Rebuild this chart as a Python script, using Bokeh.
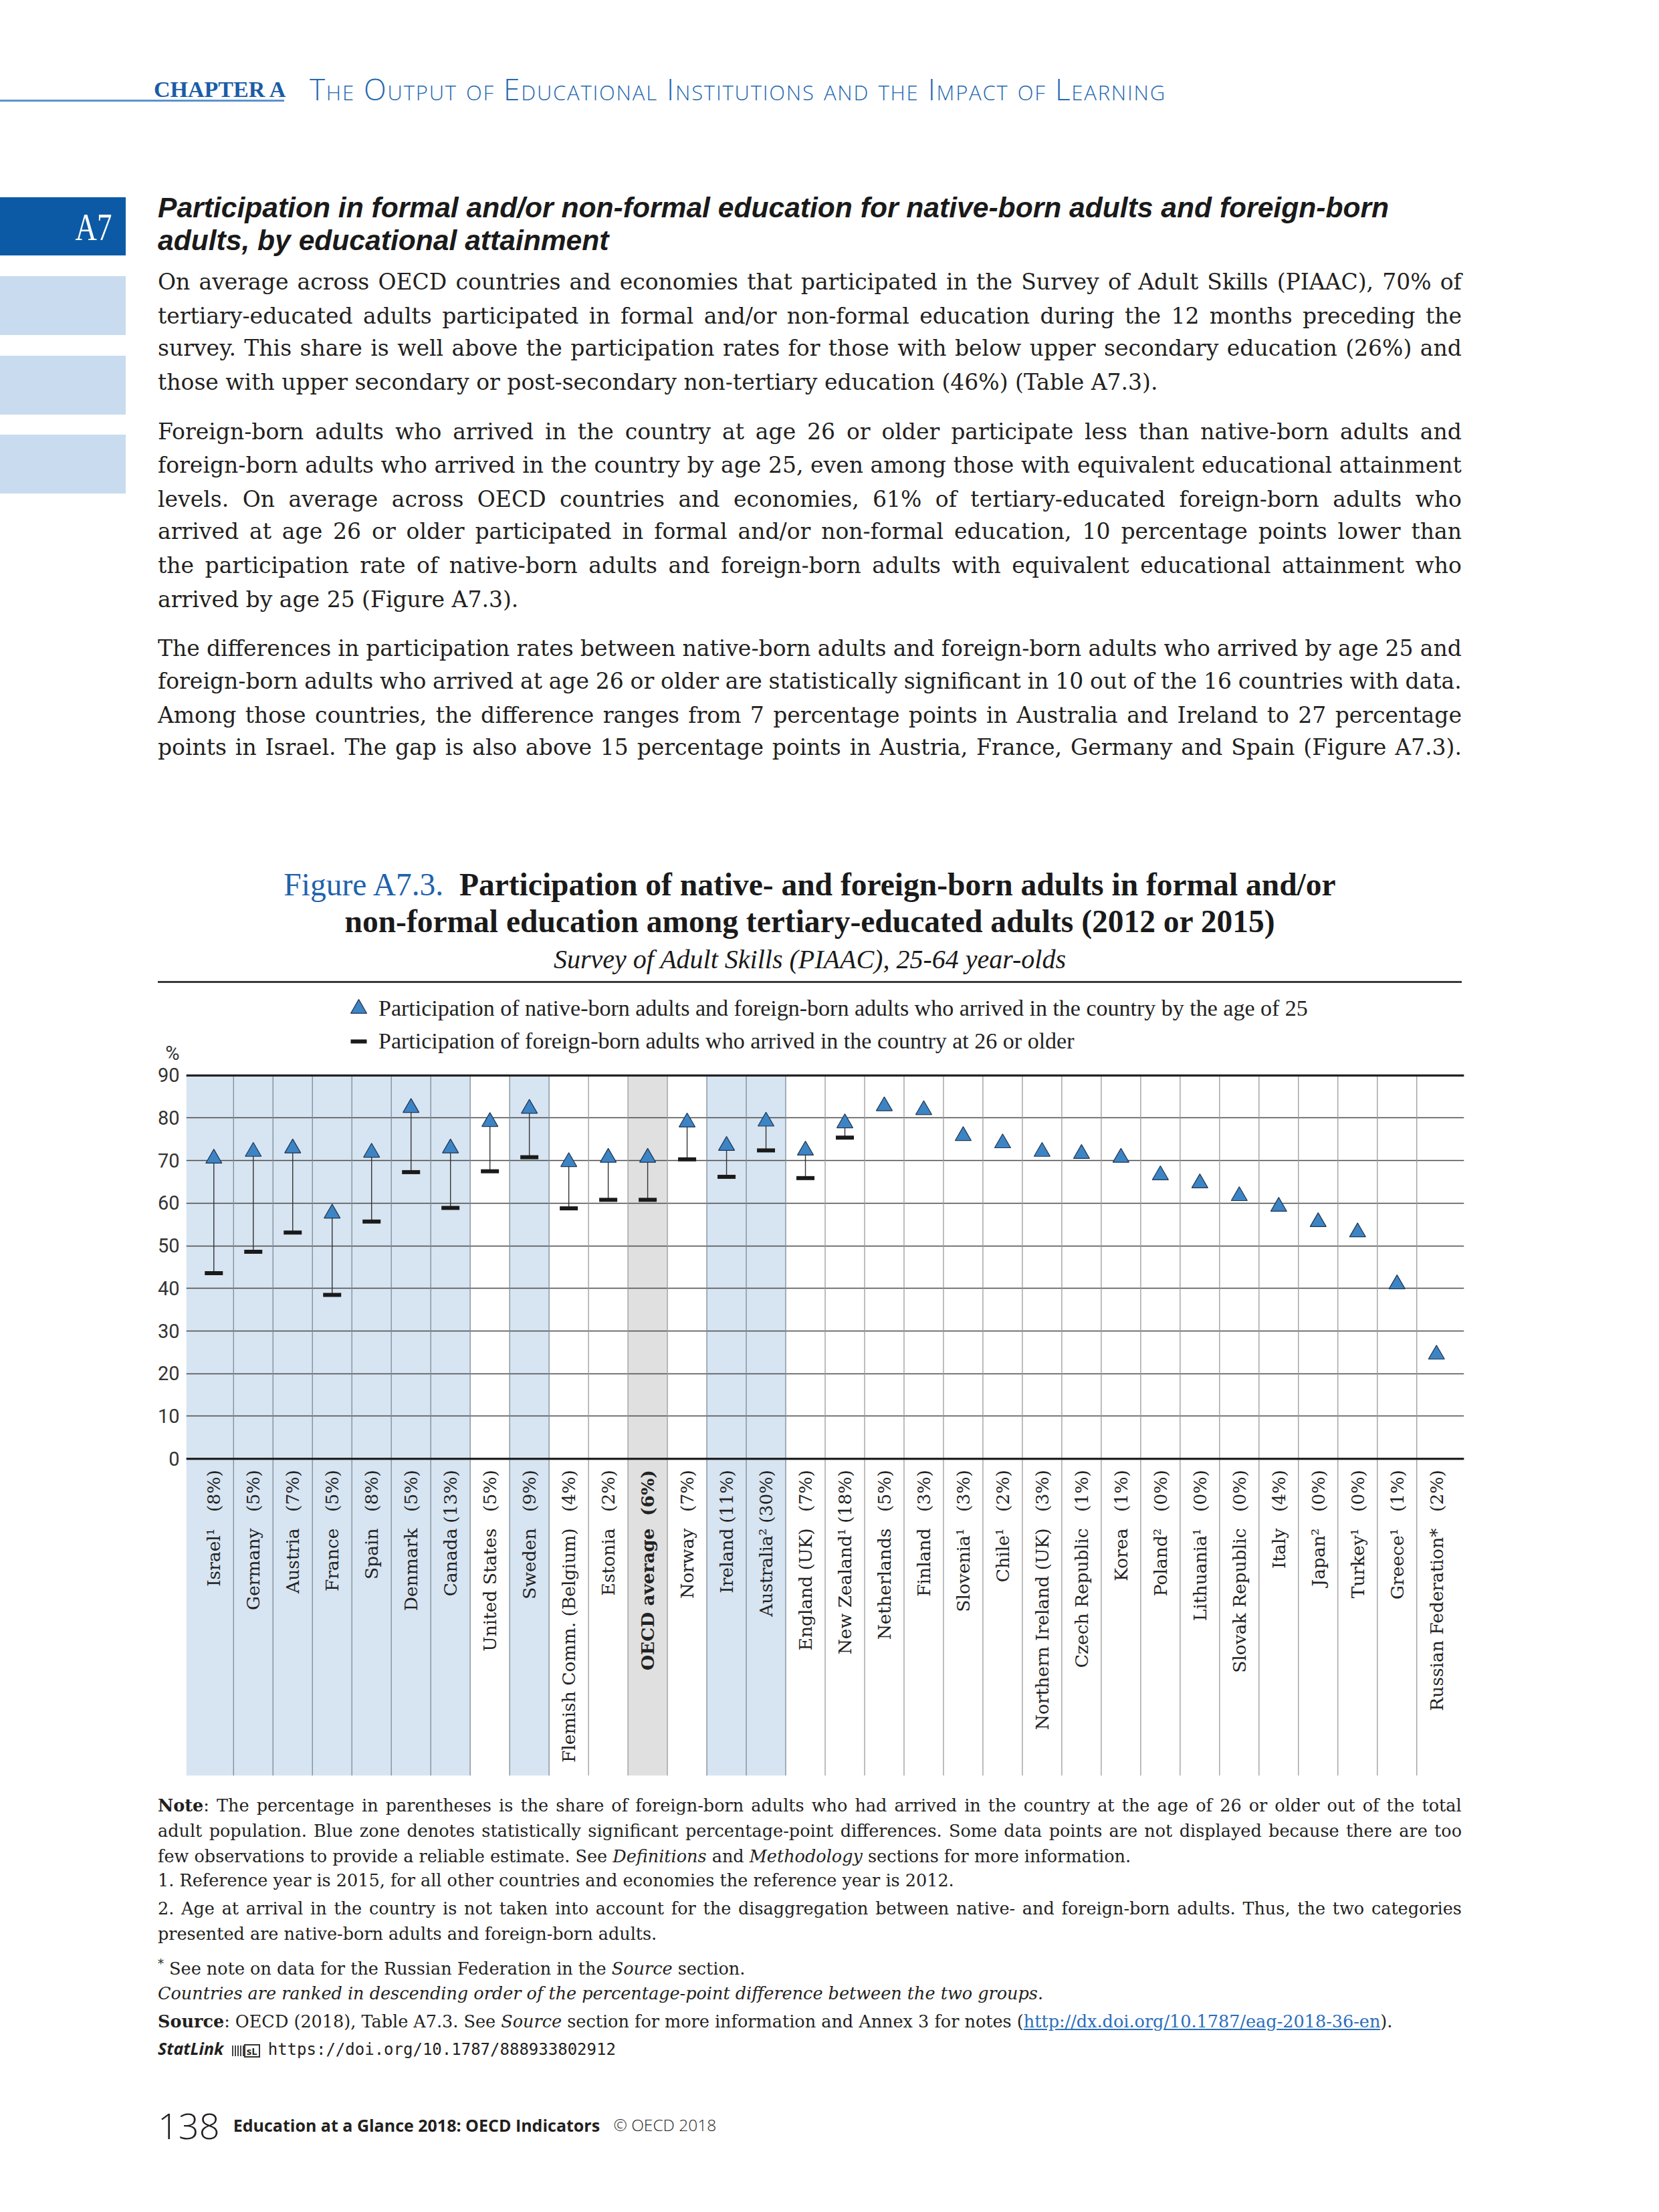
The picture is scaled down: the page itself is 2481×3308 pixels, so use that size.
import math
from bokeh.plotting import figure
from bokeh.models import Range1d, FixedTicker, ColumnDataSource, Legend, LegendItem, Div, Span
from bokeh.layouts import column
from bokeh.embed import file_html
from bokeh.resources import INLINE
from bokeh.core.properties import value, field

# ------------------------------------------------------------------ data
countries = ["Israel\u00b9", "Germany", "Austria", "France", "Spain", "Denmark", "Canada",
             "United States", "Sweden", "Flemish Comm. (Belgium)", "Estonia", "OECD average",
             "Norway", "Ireland", "Australia\u00b2", "England (UK)", "New Zealand\u00b9", "Netherlands",
             "Finland", "Slovenia\u00b9", "Chile\u00b9", "Northern Ireland (UK)", "Czech Republic", "Korea",
             "Poland\u00b2", "Lithuania\u00b9", "Slovak Republic", "Italy", "Japan\u00b2", "Turkey\u00b9",
             "Greece\u00b9", "Russian Federation*"]
shares = ["(8%)", "(5%)", "(7%)", "(5%)", "(8%)", "(5%)", "(13%)", "(5%)", "(9%)", "(4%)", "(2%)",
          "(6%)", "(7%)", "(11%)", "(30%)", "(7%)", "(18%)", "(5%)", "(3%)", "(3%)", "(2%)", "(3%)",
          "(1%)", "(1%)", "(0%)", "(0%)", "(0%)", "(4%)", "(0%)", "(0%)", "(1%)", "(2%)"]
# native-born adults and foreign-born adults who arrived by age 25
native_by25 = [70.5, 72.1, 72.9, 57.6, 71.9, 82.4, 72.9, 79.1, 82.2, 69.7, 70.7, 70.7,
               79.0, 73.5, 79.2, 72.4, 78.8, 82.8, 81.9, 75.8, 74.1, 72.1, 71.6, 70.7,
               66.6, 64.7, 61.7, 59.2, 55.6, 53.2, 41.0, 24.5]
# foreign-born adults who arrived at 26 or older (None = not displayed)
foreign_26plus = [43.6, 48.6, 53.1, 38.5, 55.7, 67.3, 58.9, 67.5, 70.8, 58.8, 60.8, 60.8,
                  70.3, 66.2, 72.4, 65.9, 75.4, None, None, None, None, None, None, None,
                  None, None, None, None, None, None, None, None]
significant = [True, True, True, True, True, True, True, False, True, False, False, False,
               False, True, True, False, False, False, False, False, False, False, False, False,
               False, False, False, False, False, False, False, False]
average_label = "OECD average"
y_ticks = [0, 10, 20, 30, 40, 50, 60, 70, 80, 90]
unit_label = "%"
legend_labels = ["Participation of native-born adults and foreign-born adults who arrived in the country by the age of 25",
                 "Participation of foreign-born adults who arrived in the country at 26 or older"]

# ------------------------------------------------------------------ styles
W = 2465
TOP_H, FIG_H, BOT_H = 1478, 1192, 630
TXT = "#231f20"
BLUE_DARK = "#0c5aa6"
SERIF = "'Liberation Serif', serif"
BODY = "'DejaVu Serif', serif"
SANS = "'Open Sans', sans-serif"
HEAD = "'Liberation Sans', sans-serif"


def line_div(html, left, center, width, font, size, lh=None, justify=False, color=TXT,
             align="left", extra=""):
    lh = lh or int(size * 1.35)
    top = center - lh / 2
    base = (f"position:absolute;left:{left}px;top:{top:.1f}px;width:{width}px;height:{lh}px;"
            f"line-height:{lh}px;font-family:{font};font-size:{size}px;color:{color};"
            f"white-space:nowrap;{extra}")
    if justify:
        inner = "".join(f"<span>{w}</span>" for w in html.split(" "))
        return f'<div style="{base}display:flex;justify-content:space-between;align-items:baseline;">{inner}</div>'
    return f'<div style="{base}text-align:{align};">{html}</div>'


def box(left, top, width, height, color, extra=""):
    return (f'<div style="position:absolute;left:{left}px;top:{top}px;width:{width}px;'
            f'height:{height}px;background:{color};{extra}"></div>')


# ------------------------------------------------------------------ top block (page coords)
parts = []
parts.append(box(0, 149, 425, 3, "#5a93cf"))
parts.append(line_div("CHAPTER A", 230, 133, 200, SERIF, 34,
                      color="#1b5ca6", extra="font-weight:bold;"))
parts.append(line_div("The Output of Educational Institutions and the Impact of Learning",
                      463, 133, 1500, SANS, 44, color="#2468b2",
                      extra="font-variant:small-caps;font-weight:300;letter-spacing:1.8px;"))
# sidebar
parts.append(box(0, 295, 188, 87, BLUE_DARK))
parts.append(line_div("A7", 95, 340, 90, SERIF, 56, color="#ffffff",
                      align="center", extra="transform:scaleX(0.8);"))
for t in (413, 532, 650):
    parts.append(box(0, t, 188, 88, "#c9dbef"))
# heading
head = ["Participation in formal and/or non-formal education for native-born adults and foreign-born",
        "adults, by educational attainment"]
for txt, c in zip(head, (310, 359)):
    parts.append(line_div(txt, 236, c, 1950, HEAD, 42.6, lh=49, color="#1a1a1a",
                          extra="font-weight:bold;font-style:italic;"))
# body paragraphs: (text, centre, justified)
body = [
    ("On average across OECD countries and economies that participated in the Survey of Adult Skills (PIAAC), 70% of", 422, True),
    ("tertiary-educated adults participated in formal and/or non-formal education during the 12 months preceding the", 473, True),
    ("survey. This share is well above the participation rates for those with below upper secondary education (26%) and", 521, True),
    ("those with upper secondary or post-secondary non-tertiary education (46%) (Table A7.3).", 572, False),
    ("Foreign-born adults who arrived in the country at age 26 or older participate less than native-born adults and", 646, True),
    ("foreign-born adults who arrived in the country by age 25, even among those with equivalent educational attainment", 696, True),
    ("levels. On average across OECD countries and economies, 61% of tertiary-educated foreign-born adults who", 747, True),
    ("arrived at age 26 or older participated in formal and/or non-formal education, 10 percentage points lower than", 795, True),
    ("the participation rate of native-born adults and foreign-born adults with equivalent educational attainment who", 846, True),
    ("arrived by age 25 (Figure A7.3).", 897, False),
    ("The differences in participation rates between native-born adults and foreign-born adults who arrived by age 25 and", 970, True),
    ("foreign-born adults who arrived at age 26 or older are statistically significant in 10 out of the 16 countries with data.", 1019, True),
    ("Among those countries, the difference ranges from 7 percentage points in Australia and Ireland to 27 percentage", 1070, True),
    ("points in Israel. The gap is also above 15 percentage points in Austria, France, Germany and Spain (Figure A7.3).", 1118, True),
]
for txt, c, j in body:
    parts.append(line_div(txt, 236, c, 1950, BODY, 33, lh=50, justify=j))
# figure title
t1 = ('<span style="color:#1f63ad;font-weight:normal;">Figure A7.3.</span>&nbsp;&nbsp;'
      'Participation of native- and foreign-born adults in formal and/or')
t2 = "non-formal education among tertiary-educated adults (2012 or 2015)"
for txt, c in ((t1, 1323), (t2, 1378)):
    parts.append(line_div(txt, 236, c, 1950, SERIF, 47.5, lh=55, color="#1a1a1a",
                          align="center", extra="font-weight:bold;"))
parts.append(line_div("Survey of Adult Skills (PIAAC), 25-64 year-olds", 236, 1435, 1950,
                      SERIF, 40, lh=48, color="#1a1a1a", align="center", extra="font-style:italic;"))
parts.append(box(236, 1467, 1950, 3, "#3a3a3a"))

top_div = Div(text=f'<div style="position:relative;width:{W}px;height:{TOP_H}px;overflow:hidden;">'
                   + "".join(parts) + "</div>",
              width=W, height=TOP_H, margin=(0, 0, 0, 0))

# ------------------------------------------------------------------ chart
n = len(countries)
xs = list(range(n))
X0, X1 = -0.7, n - 1 + 0.7
Y_TOP, Y_BOT = 110.37, -74.37
FRAME_W = 1911

p = figure(width=W, height=FIG_H, x_range=Range1d(X0, X1), y_range=Range1d(Y_BOT, Y_TOP),
           output_backend="svg", toolbar_location=None, x_axis_location=None, title=None,
           min_border_left=278, min_border_right=W - 278 - FRAME_W, min_border_top=0,
           min_border_bottom=15)
p.outline_line_color = None
p.background_fill_color = "white"
p.border_fill_color = "white"

# shaded zones (significant = blue, average = grey)
zl, zr, zc = [], [], []
for i in xs:
    if significant[i] or countries[i] == average_label:
        zl.append(X0 if i == 0 else i - 0.5)
        zr.append(i + 0.5)
        zc.append("#e0e0e0" if countries[i] == average_label else "#d7e4f1")
p.quad(left=zl, right=zr, bottom=Y_BOT, top=y_ticks[-1], fill_color=zc, line_color=None, level="image")

# grid & axis
p.xgrid.visible = False
p.ygrid.ticker = FixedTicker(ticks=y_ticks)
p.ygrid.grid_line_color = "#4a4a4a"
p.ygrid.grid_line_width = 1.4
unit_pos = y_ticks[-1] + 5.3
p.yaxis.ticker = FixedTicker(ticks=y_ticks + [unit_pos])
p.yaxis.major_label_overrides = {unit_pos: unit_label}
p.yaxis.axis_line_color = None
p.yaxis.major_tick_line_color = None
p.yaxis.minor_tick_line_color = None
p.yaxis.major_label_standoff = 4
p.yaxis.major_label_text_font = "Roboto"
p.yaxis.major_label_text_font_size = "29px"
p.yaxis.major_label_text_color = "#333333"

# column separators
sep = [i + 0.5 for i in xs[:-1]]
sep_col = ["#7b8a99" if (significant[i] or significant[i + 1]) else "#9a9a9a" for i in xs[:-1]]
p.segment(x0=sep, y0=Y_BOT, x1=sep, y1=y_ticks[-1], line_color=sep_col, line_width=1.3)

for loc in (y_ticks[0], y_ticks[-1]):
    p.add_layout(Span(location=loc, dimension="width", line_color="#222222", line_width=3.2))

# data marks
fv = [float("nan") if v is None else v for v in foreign_26plus]
src = ColumnDataSource(dict(x=xs, native=native_by25, foreign=fv))
p.segment(x0="x", y0="foreign", x1="x", y1="native", source=src, line_color="#333333", line_width=1.4)
dash_r = p.scatter(x="x", y="foreign", source=src, marker="dash", size=27, line_width=6,
                   line_color="#1a1a1a")
tri_r = p.scatter(x="x", y="native", source=src, marker="triangle", size=24,
                  fill_color="#3d84c5", line_color="#1e3550", line_width=1.2)

# category labels
lab = ColumnDataSource(dict(x=xs, name=countries, share=shares,
                            fstyle=["bold" if c == average_label else "normal" for c in countries]))
p.text(x="x", y=-2.6, text="share", source=lab, angle=math.pi / 2, text_align="right",
       text_baseline="middle", text_font=value("DejaVu Serif"), text_font_size="26.5px",
       text_font_style=field("fstyle"), text_color="#222222")
p.text(x="x", y=-16.3, text="name", source=lab, angle=math.pi / 2, text_align="right",
       text_baseline="middle", text_font=value("DejaVu Serif"), text_font_size="26.5px",
       text_font_style=field("fstyle"), text_color="#222222")

# legend: two single-row legends so that the rows sit 49px apart with full-size markers
FRAME_H = FIG_H - 15
for k, (lbl, r, centre) in enumerate(((legend_labels[0], tri_r, 30), (legend_labels[1], dash_r, 79))):
    lg = Legend(items=[LegendItem(label=lbl, renderers=[r])],
                location=(228, FRAME_H - (centre + 30)), orientation="vertical",
                glyph_width=60, glyph_height=60, label_standoff=-5, padding=0, margin=0,
                border_line_alpha=0, background_fill_alpha=0, label_text_font="Liberation Serif",
                label_text_font_size="34px", label_text_color="#222222")
    p.add_layout(lg)

# ------------------------------------------------------------------ bottom block
ob = TOP_H + FIG_H
parts = []
notes = [
    ("<b>Note</b>: The percentage in parentheses is the share of foreign-born adults who had arrived in the country at the age of 26 or older out of the total", 2700, True),
    ("adult population. Blue zone denotes statistically significant percentage-point differences. Some data points are not displayed because there are too", 2738, True),
    ("few observations to provide a reliable estimate. See <i>Definitions</i> and <i>Methodology</i> sections for more information.", 2776, False),
    ("1. Reference year is 2015, for all other countries and economies the reference year is 2012.", 2812, False),
    ("2. Age at arrival in the country is not taken into account for the disaggregation between native- and foreign-born adults. Thus, the two categories", 2854, True),
    ("presented are native-born adults and foreign-born adults.", 2892, False),
    ("<sup style='font-size:18px'>*</sup> See note on data for the Russian Federation in the <i>Source</i> section.", 2937, False),
    ("<i>Countries are ranked in descending order of the percentage-point difference between the two groups.</i>", 2981, False),
    ("<b>Source</b>: OECD (2018), Table A7.3. See <i>Source</i> section for more information and Annex 3 for notes "
     "(<span style='color:#2a6ebb;text-decoration:underline;'>http://dx.doi.org/10.1787/eag-2018-36-en</span>).", 3023, False),
]
for txt, c, j in notes:
    parts.append(line_div(txt, 236, c - ob, 1950, BODY, 25.5, lh=38, justify=j))
statlink = ("<b><i style=\"font-family:'Open Sans',sans-serif;font-size:25px;\">StatLink</i></b>"
            "&nbsp;<span style=\"display:inline-block;width:18px;height:16px;margin-left:6px;"
            "background:repeating-linear-gradient(90deg,#444 0 2px,#fff 2px 4px);vertical-align:middle;\"></span>"
            "<span style=\"display:inline-block;border:2px solid #333;font:bold 15px 'Open Sans',sans-serif;"
            "line-height:16px;padding:0 2px;margin-right:12px;vertical-align:middle;\">sL</span>"
            "<span style=\"font-family:'DejaVu Sans Mono',monospace;font-size:24px;\">https://doi.org/10.1787/888933802912</span>")
parts.append(line_div(statlink, 236, 3063 - ob, 1950, SERIF, 26, lh=38))
footer = ("<span style=\"font-family:'Open Sans',sans-serif;font-weight:300;font-size:54px;"
          "vertical-align:middle;\">138</span>&nbsp;&nbsp;&nbsp;"
          "<span style=\"font-family:'Open Sans',sans-serif;font-weight:bold;font-size:25px;"
          "vertical-align:middle;\">Education at a Glance 2018: OECD Indicators</span>&nbsp;&nbsp;&nbsp;"
          "<span style=\"font-family:'Open Sans',sans-serif;font-weight:300;font-size:24.5px;"
          "vertical-align:middle;\">\u00a9 OECD 2018</span>")
parts.append(line_div(footer, 236, 3175 - ob, 1950, SANS, 26, lh=70))

bottom_div = Div(text=f'<div style="position:relative;width:{W}px;height:{BOT_H}px;overflow:hidden;">'
                      + "".join(parts) + "</div>",
                 width=W, height=BOT_H, margin=(0, 0, 0, 0))

page = column(top_div, p, bottom_div, spacing=0)
open("out.html", "w").write(file_html(page, INLINE))
